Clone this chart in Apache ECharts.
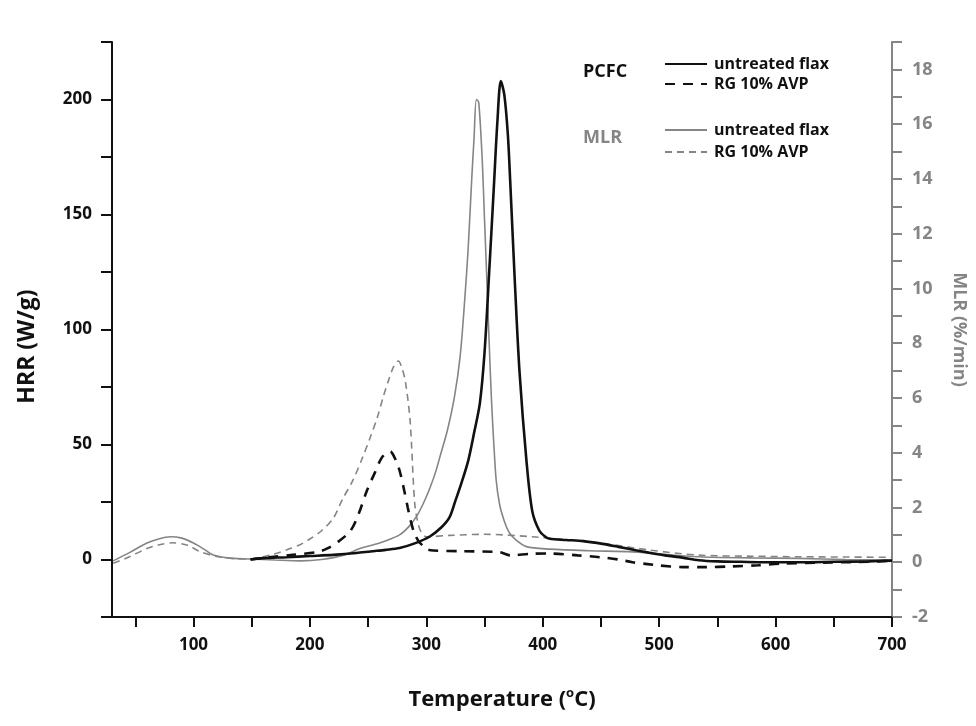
<!DOCTYPE html>
<html>
<head>
<meta charset="utf-8">
<script src="https://cdn.jsdelivr.net/npm/echarts@6/dist/echarts.min.js"></script>
<style>
html,body{margin:0;padding:0;background:#fff;}
#chart{width:976px;height:726px;}
</style>
</head>
<body>
<div id="chart"></div>
<script>
// ---- Data ----
const xTickValues = [50,100,150,200,250,300,350,400,450,500,550,600,650,700];
const xLabelValues = [100,200,300,400,500,600,700];
const hrrTickValues = [-25,0,25,50,75,100,125,150,175,200,225];
const hrrLabelValues = [0,50,100,150,200];
const mlrTickValues = [-2,-1,0,1,2,3,4,5,6,7,8,9,10,11,12,13,14,15,16,17,18,19];
const mlrLabelValues = [-2,0,2,4,6,8,10,12,14,16,18];

// PCFC untreated flax (HRR, W/g)
const pcfcUntreatedT   = [149,160,180,200,220,240,252,265,277,290,303,313,320,325,330,336,341,346,350,354,358,361,364,367,370,372,376,380,386,391,397,402,406,420,435,449,465,480,491,505,520,534,550,570,590,620,650,680,700];
const pcfcUntreatedHRR = [0,0.6,1,1.5,2,2.8,3.5,4.2,5,7,10,14,18.4,25.6,33,43,55,68,90,125,162,190,208,202,185,165,121,82,43,21,12.6,10,9,8.5,8,7,5.5,4,3,1.8,0.8,-0.3,-0.8,-1,-1.2,-1.2,-1,-0.8,-0.5];

// PCFC RG 10% AVP (HRR, W/g)
const pcfcRgT   = [149,165,185,206,215,225,235,242,249,256,262,269,273,277,281,284,287,290,294,297,300,306,330,363,372,390,406,430,449,465,477,490,500,520,540,562,585,605,648,680,700];
const pcfcRgHRR = [0,1,2,3.2,4.8,8,12.6,20,30,38,44.5,47,44,38.7,30,22.7,16,11,7.5,6,4.5,3.9,3.6,3.2,1.8,2.5,2.6,1.8,1,0,-1.2,-2,-2.6,-3.3,-3.3,-3,-2.5,-1.8,-1.3,-1,-0.5];

// MLR untreated flax (%/min)
const mlrUntreatedT   = [31,45,60,70,80,90,100,110,117,129,149,170,192,210,229,243,254,263,277,285,292,298,303,308,312,318,324,329,333,336,339,341,343,345,348,350,352,354,356,358,360,363,367,371,376,386,406,440,477,534,580,620,660,700];
const mlrUntreatedMLR = [0.05,0.35,0.7,0.85,0.93,0.88,0.7,0.45,0.26,0.16,0.12,0.08,0.05,0.1,0.26,0.5,0.63,0.75,1.0,1.3,1.7,2.2,2.7,3.3,3.9,4.8,6.0,7.5,9.6,11.5,14,15.5,16.9,16.8,14.7,12.5,10.3,8,5.9,4.3,3,2.1,1.5,1.1,0.85,0.57,0.48,0.42,0.38,0.2,0.16,0.14,0.1,0.08];

// MLR RG 10% AVP (%/min)
const mlrRgT   = [31,45,60,70,82,95,106,121,135,149,169,183,192,200,210,220,228,237,245,252,258,263,268,272,276,279,282,286,290,293,296,300,320,349,391,449,491,534,580,620,660,700];
const mlrRgMLR = [-0.04,0.2,0.5,0.63,0.71,0.62,0.38,0.2,0.13,0.12,0.3,0.5,0.65,0.85,1.15,1.6,2.3,3.0,3.8,4.58,5.3,6.04,6.7,7.15,7.35,7.1,6.6,5.2,2.16,1.4,1.07,0.93,0.98,1.02,0.93,0.7,0.45,0.26,0.22,0.2,0.19,0.18];

const zip = (a, b) => a.map((v, i) => [v, b[i]]);

const FONT = '"Open Sans", "Liberation Sans", sans-serif';
const GRAY = '#858585';

const chart = echarts.init(document.getElementById('chart'), null, {renderer: 'canvas'});

const legendCommon = {
  orient: 'vertical', left: 664, padding: 0, itemWidth: 42, itemHeight: 12,
  itemStyle: {opacity: 0, borderWidth: 0},
  textStyle: {fontFamily: FONT, fontWeight: 'bold', fontSize: 16, color: '#111', padding: [0,0,0,2]},
  selectedMode: false
};

const option = {
  backgroundColor: '#fff',
  animation: false,
  grid: {left: 112, right: 82, top: 42, bottom: 109, containLabel: false},
  xAxis: {
    type: 'value', min: 30, max: 700,
    name: '{t|Temperature (}{s|o}{t|C)}',
    nameLocation: 'middle', nameGap: 70,
    nameTextStyle: {
      rich: {
        t: {fontFamily: FONT, fontWeight: 'bold', fontSize: 22, color: '#111'},
        s: {fontFamily: FONT, fontWeight: 'bold', fontSize: 13, color: '#111', verticalAlign: 'top', padding: [0,0,12,0]}
      }
    },
    axisLine: {show: true, onZero: false, lineStyle: {color: '#111', width: 2}},
    axisTick: {show: true, inside: false, length: 10, lineStyle: {color: '#111', width: 2}, customValues: xTickValues},
    axisLabel: {customValues: xLabelValues, fontFamily: FONT, fontWeight: 'bold', fontSize: 17, color: '#111', margin: 20},
    splitLine: {show: false}
  },
  yAxis: [
    {
      type: 'value', min: -25, max: 225, position: 'left',
      name: 'HRR (W/g)', nameLocation: 'middle', nameGap: 73, nameRotate: 90,
      nameTextStyle: {fontFamily: FONT, fontWeight: 'bold', fontSize: 23, color: '#111', padding: [0, 34, 0, 0]},
      axisLine: {show: true, onZero: false, lineStyle: {color: '#111', width: 2}},
      axisTick: {show: true, length: 11, lineStyle: {color: '#111', width: 2}, customValues: hrrTickValues},
      axisLabel: {customValues: hrrLabelValues, fontFamily: FONT, fontWeight: 'bold', fontSize: 17, color: '#111', margin: 20},
      splitLine: {show: false}
    },
    {
      type: 'value', min: -2, max: 19, position: 'right',
      name: 'MLR (%/min)', nameLocation: 'middle', nameGap: 58, nameRotate: -90,
      nameTextStyle: {fontFamily: FONT, fontWeight: 'bold', fontSize: 18, color: GRAY},
      axisLine: {show: true, onZero: false, lineStyle: {color: GRAY, width: 2}},
      axisTick: {show: true, length: 10, lineStyle: {color: GRAY, width: 2}, customValues: mlrTickValues},
      axisLabel: {customValues: mlrLabelValues, fontFamily: FONT, fontWeight: 'bold', fontSize: 18, color: GRAY, margin: 20},
      splitLine: {show: false}
    }
  ],
  legend: [
    Object.assign({}, legendCommon, {
      top: 56, itemGap: 4,
      data: ['PCFC untreated flax', 'PCFC RG 10% AVP'],
      formatter: n => n.replace(/^PCFC /, '')
    }),
    Object.assign({}, legendCommon, {
      top: 122, itemGap: 6,
      data: ['MLR untreated flax', 'MLR RG 10% AVP'],
      formatter: n => n.replace(/^MLR /, '')
    })
  ],
  graphic: [
    {type: 'text', left: 583, top: 63, style: {text: 'PCFC', fontFamily: FONT, fontWeight: 'bold', fontSize: 18, fill: '#111'}},
    {type: 'text', left: 583, top: 129, style: {text: 'MLR', fontFamily: FONT, fontWeight: 'bold', fontSize: 18, fill: GRAY}}
  ],
  series: [
    {
      name: 'MLR RG 10% AVP', type: 'line', yAxisIndex: 1, symbol: 'none', smooth: 0.3,
      data: zip(mlrRgT, mlrRgMLR),
      lineStyle: {color: GRAY, width: 1.6, type: [7, 5]}, itemStyle: {color: GRAY}
    },
    {
      name: 'MLR untreated flax', type: 'line', yAxisIndex: 1, symbol: 'none', smooth: 0.3,
      data: zip(mlrUntreatedT, mlrUntreatedMLR),
      lineStyle: {color: GRAY, width: 1.6, type: 'solid'}, itemStyle: {color: GRAY}
    },
    {
      name: 'PCFC RG 10% AVP', type: 'line', yAxisIndex: 0, symbol: 'none', smooth: 0.3,
      data: zip(pcfcRgT, pcfcRgHRR),
      lineStyle: {color: '#111', width: 2.6, type: [10, 8]}, itemStyle: {color: '#111'}
    },
    {
      name: 'PCFC untreated flax', type: 'line', yAxisIndex: 0, symbol: 'none', smooth: 0.3,
      data: zip(pcfcUntreatedT, pcfcUntreatedHRR),
      lineStyle: {color: '#111', width: 2.6, type: 'solid'}, itemStyle: {color: '#111'}
    }
  ]
};
chart.setOption(option);
</script>
</body>
</html>
